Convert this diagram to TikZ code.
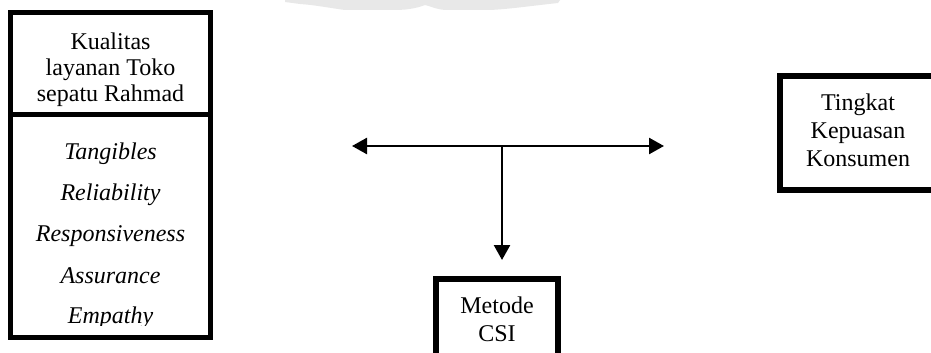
\documentclass[tikz,border=0pt]{standalone}
\usepackage{fontspec}
\setmainfont{Liberation Serif}
\usetikzlibrary{arrows.meta}

\tikzset{
  frame/.style={draw=black, fill=none, inner sep=0pt, outer sep=0pt},
  txt/.style={anchor=base, inner sep=0pt, font=\fontsize{12pt}{13pt}\selectfont},
  itxt/.style={txt, font=\fontsize{12pt}{13pt}\selectfont\itshape},
  link/.style={draw=black, line width=1.25pt},
  tip/.style={-{Triangle[length=7.5pt,width=8pt]}},
  tips/.style={{Triangle[length=7.5pt,width=8pt]}-{Triangle[length=7.5pt,width=8pt]}}
}

\begin{document}
\begin{tikzpicture}[x=0.5pt, y=-0.5pt]
  \clip (0,0) rectangle (931,353);
  \fill[white] (0,0) rectangle (931,353);

  % faint watermark at the top edge
  \fill[black!9] (285,0) -- (560,0) -- (558,3) .. controls (530,6) and (510,9) .. (490,10)
     -- (445,10) .. controls (435,9) and (430,6) .. (425,5)
     .. controls (420,7) and (410,10) .. (395,10) -- (345,10)
     .. controls (330,8) and (315,5) .. (300,4) -- (285,2) -- cycle;

  % left box: service quality and its five dimensions
  \node[frame, line width=2.5pt, minimum width=100pt, minimum height=162.5pt] (kual) at (110.5,175) {};
  \draw[line width=2.5pt] (kual.west |- 0,115) coordinate (divl) -- (kual.east |- 0,115) coordinate (divr);

  \node[txt] (k1) at (110.5,49.3) {Kualitas};
  \node[txt] (k2) at (110.5,75.5) {layanan Toko};
  \node[txt] (k3) at (110.5,101.7) {sepatu Rahmad};

  \node[itxt] (d1) at (110.5,159) {Tangibles};
  \node[itxt] (d2) at (110.5,200) {Reliability};
  \node[itxt] (d3) at (110.5,241) {Responsiveness};
  \node[itxt] (d4) at (110.5,283) {Assurance};
  \begin{scope}
    \clip (20,300) rectangle (200,325);
    \node[itxt] (d5) at (110.5,323.5) {Empathy};
  \end{scope}

  % right box: customer satisfaction
  \node[frame, line width=3pt, minimum width=78pt, minimum height=57pt] (puas) at (858,133) {};
  \node[txt] (p1) at (858,111) {Tingkat};
  \node[txt] (p2) at (858,139) {Kepuasan};
  \node[txt] (p3) at (858,166) {Konsumen};

  % bottom box: CSI method
  \node[frame, line width=3pt, minimum width=61pt, minimum height=50pt] (csi) at (497,329) {};
  \node[txt] (c1) at (497,313) {Metode};
  \node[txt] (c2) at (497,341) {CSI};

  % connectors
  \coordinate (la) at (352,146);
  \coordinate (ra) at (664,146);
  \coordinate (jn) at (502,146);
  \coordinate (dn) at (502,260);
  \draw[link, tips] (la) -- (ra);
  \draw[link, tip] (jn) -- (dn);
\end{tikzpicture}
\end{document}
